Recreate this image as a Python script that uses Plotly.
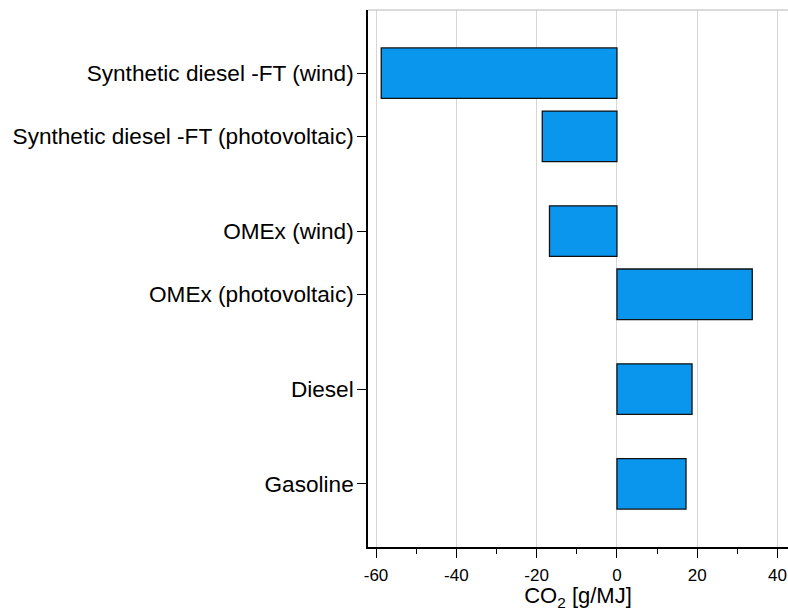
import plotly.graph_objects as go

# CO2 emissions per fuel pathway, g/MJ
fuels = [
    "Synthetic diesel -FT (wind)",
    "Synthetic diesel -FT (photovoltaic)",
    "OMEx (wind)",
    "OMEx (photovoltaic)",
    "Diesel",
    "Gasoline",
]
co2 = [-58.7, -18.6, -16.8, 33.7, 18.7, 17.2]
# category slots on the vertical axis (groups separated by a gap)
slots = [0, 1, 2.5, 3.5, 5, 6.5]
x_ticks = [-60, -40, -20, 0, 20, 40]

fig = go.Figure(
    go.Bar(
        x=co2,
        y=slots,
        orientation="h",
        width=0.8,
        marker=dict(color="#0b96ee", line=dict(color="#111111", width=1.3)),
    )
)

fig.update_layout(
    width=788,
    height=611,
    margin=dict(l=368, r=0, t=10, b=64),
    plot_bgcolor="white",
    paper_bgcolor="white",
    showlegend=False,
    font=dict(family="Liberation Sans, Arial, sans-serif", color="black"),
    shapes=[
        dict(type="line", xref="paper", yref="paper", x0=0, x1=1, y0=1, y1=1,
             line=dict(color="#cfcfcf", width=1.5)),
    ],
)

fig.update_xaxes(
    range=[-62.0, 42.6],
    tickvals=x_ticks,
    ticktext=[str(v) for v in x_ticks],
    tickfont=dict(size=17),
    ticks="outside",
    ticklen=9,
    tickcolor="black",
    ticklabelstandoff=3,
    showline=True,
    linecolor="black",
    linewidth=1.5,
    showgrid=True,
    gridcolor="#d6d6d6",
    gridwidth=1,
    zeroline=False,
    minor=dict(dtick=10, tick0=0, ticks="outside", ticklen=5, tickcolor="black", showgrid=False),
    title=dict(text="CO<sub>2</sub> [g/MJ]", font=dict(size=22), standoff=6),
)

fig.update_yaxes(
    range=[7.5, -1],
    tickvals=slots,
    ticktext=fuels,
    tickfont=dict(size=22.6),
    ticks="outside",
    ticklen=9,
    tickcolor="black",
    ticklabelstandoff=-1,
    showline=True,
    linecolor="black",
    linewidth=1.5,
    showgrid=False,
    zeroline=False,
)

fig.write_html("out.html")
